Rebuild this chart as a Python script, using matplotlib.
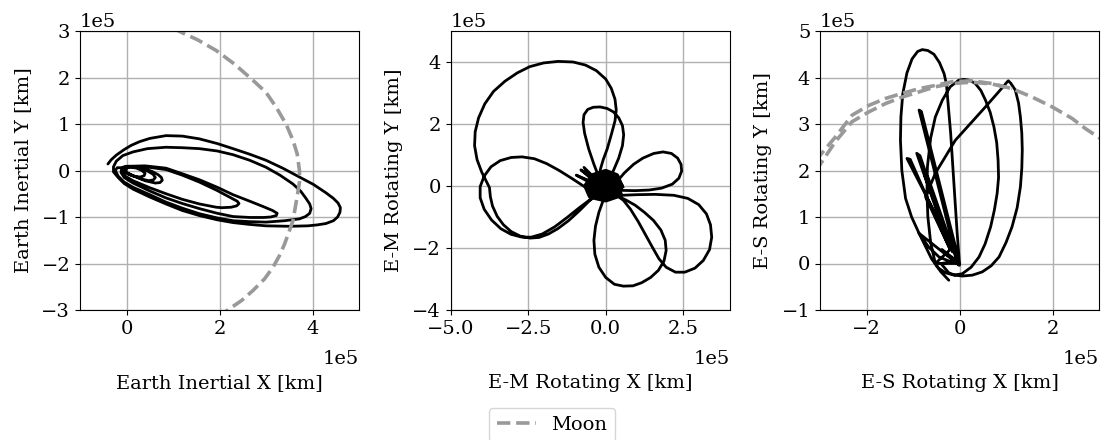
import matplotlib
matplotlib.use("Agg")
import matplotlib.pyplot as plt
import numpy as np

plt.rcParams['font.family'] = ['DejaVu Serif']
plt.rcParams['font.size'] = 14

SCALE = 1e5  # values below are in units of 1e5 km

# ---------------- Panel 1: Earth inertial ----------------
in_loopE_x = [-0.40, -0.33, -0.22, -0.05, 0.10, 0.28, 0.50, 0.85, 1.20, 1.57, 1.95, 2.29, 2.65, 3.00, 3.36, 3.72, 4.02, 4.29, 4.45, 4.55, 4.60, 4.59, 4.54, 4.45, 4.29, 4.10, 3.90, 3.50, 3.00, 2.65, 2.29, 1.95, 1.57, 1.20, 0.85, 0.50, 0.14, -0.05, -0.18, -0.28]
in_loopE_y = [0.14, 0.23, 0.33, 0.45, 0.54, 0.62, 0.69, 0.75, 0.74, 0.68, 0.58, 0.47, 0.35, 0.22, 0.05, -0.14, -0.30, -0.48, -0.60, -0.70, -0.80, -0.90, -1.00, -1.08, -1.14, -1.17, -1.19, -1.20, -1.19, -1.16, -1.12, -1.06, -0.97, -0.86, -0.72, -0.57, -0.40, -0.28, -0.15, -0.03]
in_loopD_x = [-0.28, -0.22, -0.08, 0.14, 0.45, 0.85, 1.20, 1.57, 1.95, 2.29, 2.65, 3.00, 3.30, 3.58, 3.75, 3.86, 3.94, 3.97, 3.94, 3.85, 3.72, 3.40, 3.00, 2.65, 2.29, 1.95, 1.57, 1.20, 0.85, 0.50, 0.14, -0.05, -0.18, -0.24, -0.20]
in_loopD_y = [0.08, 0.20, 0.32, 0.40, 0.47, 0.50, 0.49, 0.47, 0.42, 0.34, 0.22, 0.07, -0.10, -0.29, -0.45, -0.60, -0.72, -0.82, -0.92, -0.99, -1.04, -1.08, -1.11, -1.10, -1.08, -1.02, -0.93, -0.81, -0.68, -0.52, -0.36, -0.25, -0.12, 0.00, 0.06]
in_loopC_x = [-0.12, 0.00, 0.40, 0.85, 1.20, 1.57, 1.95, 2.29, 2.65, 2.95, 3.14, 3.24, 3.22, 3.10, 2.95, 2.65, 2.29, 1.95, 1.57, 1.20, 0.85, 0.50, 0.14, -0.05, -0.12, -0.10]
in_loopC_y = [0.06, 0.09, 0.10, 0.05, -0.07, -0.20, -0.36, -0.52, -0.66, -0.78, -0.86, -0.92, -0.97, -1.00, -1.01, -1.01, -0.99, -0.92, -0.82, -0.71, -0.59, -0.44, -0.27, -0.15, -0.04, 0.04]
in_loopB_x = [0.00, 0.40, 0.85, 1.20, 1.57, 1.95, 2.29, 2.38, 2.42, 2.37, 2.25, 2.05, 1.93, 1.57, 1.20, 0.85, 0.50, 0.14, -0.03, -0.08, -0.05]
in_loopB_y = [0.09, 0.08, 0.02, -0.10, -0.25, -0.43, -0.61, -0.66, -0.71, -0.76, -0.79, -0.80, -0.79, -0.72, -0.62, -0.50, -0.37, -0.22, -0.12, -0.02, 0.05]
in_loopA3_x = [0.05, 0.30, 0.55, 0.68, 0.75, 0.77, 0.72, 0.62, 0.40, 0.15, 0.02, -0.03, -0.02]
in_loopA3_y = [0.09, 0.07, -0.02, -0.09, -0.15, -0.21, -0.26, -0.27, -0.22, -0.12, -0.06, 0.00, 0.07]
in_loopA2_x = [0.10, 0.30, 0.45, 0.57, 0.62, 0.58, 0.48, 0.35, 0.12, 0.00, -0.02, 0.02]
in_loopA2_y = [0.08, 0.05, -0.01, -0.08, -0.15, -0.20, -0.22, -0.19, -0.10, -0.04, 0.02, 0.07]
in_loopA1_x = [0.10, 0.22, 0.33, 0.40, 0.38, 0.30, 0.18, 0.06, 0.00, -0.03, 0.00, 0.05]
in_loopA1_y = [0.07, 0.05, 0.00, -0.06, -0.11, -0.14, -0.13, -0.09, -0.05, 0.00, 0.05, 0.07]

moon_in_x = [1.00, 1.14, 1.53, 1.93, 2.32, 2.72, 3.00, 3.22, 3.43, 3.58, 3.67, 3.72, 3.72, 3.68, 3.63, 3.58, 3.49, 3.40, 3.29, 3.15, 2.97, 2.72, 2.47, 2.22, 2.12]
moon_in_y = [3.06, 2.99, 2.81, 2.58, 2.29, 1.94, 1.68, 1.36, 1.00, 0.65, 0.36, 0.00, -0.25, -0.50, -0.79, -1.08, -1.33, -1.58, -1.83, -2.08, -2.33, -2.58, -2.80, -2.97, -3.04]

# ---------------- Panel 2: Earth-Moon rotating ----------------
em_big_x = [-0.10, -0.18, -0.08, 0.05, 0.19, 0.30, 0.34, 0.30, 0.18, 0.00, -0.30, -0.65, -1.05, -1.53, -2.00, -2.45, -2.85, -3.25, -3.62, -3.90, -4.10, -4.21, -4.23, -4.15, -4.00, -3.85, -3.75, -3.72, -3.65, -3.50, -3.30, -3.05, -2.75, -2.44, -2.15, -1.85, -1.55, -1.20, -0.85, -0.55, -0.18]
em_big_y = [0.10, 0.51, 0.85, 1.20, 1.69, 2.10, 2.45, 2.80, 3.15, 3.45, 3.72, 3.90, 4.00, 4.02, 3.97, 3.85, 3.65, 3.38, 3.05, 2.65, 2.20, 1.75, 1.30, 0.85, 0.45, 0.15, -0.05, -0.35, -0.65, -0.98, -1.25, -1.47, -1.62, -1.68, -1.66, -1.55, -1.38, -1.12, -0.80, -0.50, -0.19]
em_lobe_x = [-0.40, -0.75, -1.10, -1.50, -1.90, -2.30, -2.70, -3.05, -3.40, -3.70, -3.92, -4.05, -4.05, -3.92, -3.68, -3.38, -3.05, -2.70, -2.40, -2.05, -1.65, -1.25, -0.85, -0.45, -0.13]
em_lobe_y = [-0.19, 0.02, 0.25, 0.50, 0.72, 0.88, 0.94, 0.92, 0.82, 0.62, 0.32, -0.02, -0.38, -0.75, -1.10, -1.38, -1.56, -1.65, -1.65, -1.55, -1.32, -1.02, -0.70, -0.40, -0.19]
em_top_x = [-0.18, -0.38, -0.55, -0.68, -0.73, -0.70, -0.58, -0.40, -0.18, 0.05, 0.25, 0.42, 0.54, 0.58, 0.54, 0.42, 0.25, 0.09]
em_top_y = [0.18, 0.70, 1.20, 1.70, 2.05, 2.30, 2.47, 2.54, 2.55, 2.50, 2.39, 2.20, 1.95, 1.65, 1.30, 0.90, 0.50, 0.18]
em_rup_x = [0.35, 0.60, 0.90, 1.20, 1.55, 1.85, 2.12, 2.32, 2.43, 2.45, 2.36, 2.15, 1.80, 1.40, 0.95, 0.46]
em_rup_y = [0.13, 0.42, 0.70, 0.90, 1.05, 1.10, 1.05, 0.90, 0.70, 0.48, 0.25, 0.06, -0.07, -0.13, -0.15, -0.14]
em_rlo_x = [0.52, 1.00, 1.60, 2.20, 2.65, 3.00, 3.25, 3.38, 3.42, 3.35, 3.15, 2.88, 2.55, 2.25, 1.95, 1.72, 1.52, 1.30, 1.05, 0.80, 0.57, 0.35]
em_rlo_y = [-0.30, -0.28, -0.27, -0.30, -0.40, -0.60, -0.90, -1.25, -1.65, -2.05, -2.40, -2.65, -2.78, -2.78, -2.62, -2.35, -2.00, -1.60, -1.15, -0.75, -0.46, -0.30]
em_bot_x = [-0.08, -0.22, -0.33, -0.38, -0.35, -0.22, 0.00, 0.28, 0.57, 0.88, 1.16, 1.45, 1.70, 1.88, 1.95, 1.92, 1.78, 1.54, 1.25, 0.95, 0.65, 0.40]
em_bot_y = [-0.46, -0.85, -1.30, -1.75, -2.20, -2.62, -2.95, -3.17, -3.23, -3.22, -3.12, -2.95, -2.72, -2.42, -2.08, -1.75, -1.42, -1.11, -0.85, -0.62, -0.45, -0.33]
em_core1_x = [0.48, 0.34, 0.00, -0.40, -0.62, -0.48, 0.00, 0.38, 0.48]
em_core1_y = [0.00, 0.32, 0.45, 0.32, 0.00, -0.32, -0.43, -0.30, 0.00]
em_core2_x = [0.35, 0.22, -0.05, -0.35, -0.45, -0.30, 0.02, 0.28, 0.35]
em_core2_y = [0.02, 0.25, 0.32, 0.20, -0.05, -0.25, -0.30, -0.18, 0.02]
em_core3_x = [0.22, 0.12, -0.10, -0.28, -0.30, -0.15, 0.08, 0.20, 0.22]
em_core3_y = [0.02, 0.16, 0.20, 0.10, -0.08, -0.18, -0.18, -0.08, 0.02]
em_core4_x = [0.10, 0.00, -0.15, -0.15, 0.00, 0.10]
em_core4_y = [0.00, 0.10, 0.05, -0.08, -0.10, 0.00]
em_spike_x = [-0.20, -0.80, -0.25, -0.95, -0.30, -0.70, -0.20]
em_spike_y = [0.10, 0.52, 0.05, 0.35, 0.00, 0.60, 0.10]

# ---------------- Panel 3: Earth-Sun rotating ----------------
es_left_x = [0.00, -0.22, -0.44, -0.66, -0.87, -1.03, -1.16, -1.24, -1.27, -1.26, -1.22, -1.13, -1.02, -0.90, -0.80, -0.68, -0.55, -0.43, -0.33, -0.28, -0.27, -0.19, -0.12, -0.05, 0.00]
es_left_y = [0.00, 0.05, 0.14, 0.35, 0.65, 1.00, 1.40, 2.00, 2.65, 3.15, 3.65, 4.10, 4.40, 4.56, 4.60, 4.58, 4.50, 4.32, 4.08, 3.85, 3.73, 2.80, 1.72, 0.65, 0.00]
es_mid_x = [-0.52, -0.62, -0.68, -0.70, -0.69, -0.62, -0.52, -0.37, -0.20, -0.02, 0.09, 0.22, 0.34, 0.46, 0.56, 0.66, 0.74, 0.80, 0.83, 0.84, 0.81, 0.75, 0.67, 0.55, 0.42, 0.25, 0.06, -0.12, -0.30, -0.45, -0.52]
es_mid_y = [0.00, 0.45, 1.00, 1.50, 2.08, 2.70, 3.15, 3.51, 3.80, 3.94, 3.96, 3.94, 3.87, 3.72, 3.51, 3.25, 2.94, 2.60, 2.22, 1.85, 1.51, 1.15, 0.79, 0.42, 0.14, -0.08, -0.22, -0.25, -0.20, -0.10, 0.00]
es_right_x = [-0.20, -0.73, -0.52, -0.09, 0.56, 0.92, 1.02, 1.05, 1.10, 1.20, 1.27, 1.31, 1.34, 1.35, 1.34, 1.31, 1.24, 1.13, 1.00, 0.85, 0.68, 0.49, 0.28, 0.06, -0.10, -0.23, -0.40]
es_right_y = [0.30, 1.43, 1.94, 2.65, 3.37, 3.78, 3.90, 3.93, 3.88, 3.73, 3.45, 3.15, 2.80, 2.44, 2.05, 1.65, 1.20, 0.79, 0.45, 0.14, -0.05, -0.18, -0.25, -0.27, -0.25, -0.20, 0.00]
es_zig_x = [-0.05, -0.87, -0.82, -0.02, -1.13, -1.06, -0.20, -0.92, -0.85, -0.15, -0.75, -0.68, -0.05, -0.38, -0.02, -0.30, 0.00]
es_zig_y = [0.05, 3.30, 3.27, 0.10, 2.26, 2.24, 0.30, 2.37, 2.32, 0.25, 1.90, 1.86, 0.05, 0.30, -0.02, 0.22, -0.04]
es_tail_x = [-0.87, -0.60, -0.40, -0.23]
es_tail_y = [0.65, 0.10, -0.18, -0.36]

moon_es1_x = [-3.10, -3.03, -2.67, -2.31, -1.95, -1.59, -1.23, -0.87, -0.52, -0.16, 0.27, 0.70, 1.13, 1.56, 1.99, 2.42, 2.71, 2.98, 3.10]
moon_es1_y = [2.20, 2.29, 2.72, 3.19, 3.40, 3.55, 3.66, 3.76, 3.83, 3.91, 3.93, 3.87, 3.76, 3.58, 3.37, 3.12, 2.90, 2.72, 2.64]
moon_es2_x = [-3.10, -3.03, -2.67, -2.31, -1.95, -1.59, -1.23, -0.87, -0.52, -0.16, 0.27, 0.70, 1.13]
moon_es2_y = [1.98, 2.08, 2.62, 3.05, 3.26, 3.44, 3.58, 3.69, 3.80, 3.87, 3.90, 3.86, 3.76]


def join(*parts):
    out = []
    for p in parts:
        out.extend(p)
    return np.array(out) * SCALE


fig = plt.figure(figsize=(11.04, 4.4), dpi=100)
W, H = 1104.0, 440.0
size = 279.0
lefts = [80.0, 450.7, 820.0]
axes = [fig.add_axes([l / W, (H - 310.0) / H, size / W, size / H]) for l in lefts]

traj_kw = dict(color='black', lw=2.0, solid_joinstyle='round', solid_capstyle='round')
moon_kw = dict(color='#999999', lw=2.6, ls='--')

# Panel 1
ax = axes[0]
ax.plot(join(in_loopE_x, in_loopD_x, in_loopC_x, in_loopB_x, in_loopA3_x, in_loopA2_x, in_loopA1_x),
        join(in_loopE_y, in_loopD_y, in_loopC_y, in_loopB_y, in_loopA3_y, in_loopA2_y, in_loopA1_y), **traj_kw)
moon_line, = ax.plot(np.array(moon_in_x) * SCALE, np.array(moon_in_y) * SCALE, label='Moon', **moon_kw)
ax.set_xlim(-1e5, 5e5)
ax.set_ylim(-3e5, 3e5)
ax.set_xticks([0, 2e5, 4e5])
ax.set_yticks([-3e5, -2e5, -1e5, 0, 1e5, 2e5, 3e5])
ax.set_xlabel('Earth Inertial X [km]')
ax.set_ylabel('Earth Inertial Y [km]')

# Panel 2
ax = axes[1]
ax.plot(join(em_big_x, em_lobe_x, em_top_x, em_rup_x, em_rlo_x, em_bot_x),
        join(em_big_y, em_lobe_y, em_top_y, em_rup_y, em_rlo_y, em_bot_y), **traj_kw)
ax.plot(join(em_core1_x, em_core2_x, em_core3_x, em_core4_x),
        join(em_core1_y, em_core2_y, em_core3_y, em_core4_y), color='black', lw=4.5,
        solid_joinstyle='round')
ax.plot(join(em_spike_x), join(em_spike_y), **traj_kw)
ax.set_xlim(-5e5, 4e5)
ax.set_ylim(-4e5, 5e5)
ax.set_xticks([-5e5, -2.5e5, 0, 2.5e5])
ax.set_yticks([-4e5, -2e5, 0, 2e5, 4e5])
ax.set_xlabel('E-M Rotating X [km]')
ax.set_ylabel('E-M Rotating Y [km]')

# Panel 3
ax = axes[2]
ax.plot(join(es_left_x, es_mid_x, es_right_x, es_zig_x, es_tail_x),
        join(es_left_y, es_mid_y, es_right_y, es_zig_y, es_tail_y), **traj_kw)
ax.plot(np.array(moon_es1_x) * SCALE, np.array(moon_es1_y) * SCALE, **moon_kw)
ax.plot(np.array(moon_es2_x) * SCALE, np.array(moon_es2_y) * SCALE, **moon_kw)
ax.set_xlim(-3e5, 3e5)
ax.set_ylim(-1e5, 5e5)
ax.set_xticks([-2e5, 0, 2e5])
ax.set_yticks([-1e5, 0, 1e5, 2e5, 3e5, 4e5, 5e5])
ax.set_xlabel('E-S Rotating X [km]')
ax.set_ylabel('E-S Rotating Y [km]')

for ax in axes:
    ax.grid(True, color='#b0b0b0', lw=1.0)
    ax.set_axisbelow(True)
    ax.ticklabel_format(style='sci', axis='both', scilimits=(0, 0))
    ax.xaxis.labelpad = 26
    ax.yaxis.labelpad = 7
    ax.xaxis.OFFSETTEXTPAD = 9

fig.legend(handles=[moon_line], labels=['Moon'], loc='upper center',
           bbox_to_anchor=(0.5, 0.073), borderaxespad=0.0, fontsize=14)

fig.savefig('out.png', dpi=100)
